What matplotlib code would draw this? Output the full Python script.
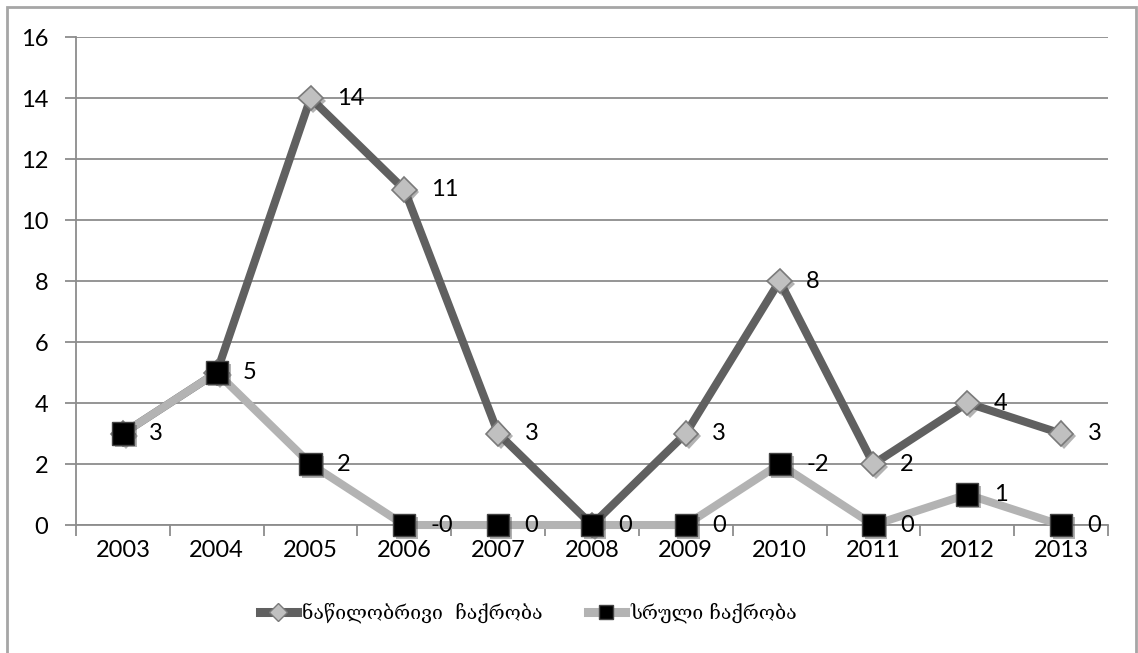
import matplotlib.pyplot as plt
import matplotlib.patheffects as pe
from matplotlib.patches import Rectangle

# Data
years = ['2003', '2004', '2005', '2006', '2007', '2008', '2009', '2010', '2011', '2012', '2013']
partial = [3, 5, 14, 11, 3, 0, 3, 8, 2, 4, 3]
full = [3, 5, 2, 0, 0, 0, 0, 2, 0, 1, 0]
partial_labels = ['3', '5', '14', '11', '3', '0', '3', '8', '2', '4', '3']
full_labels = ['3', '5', '2', '-0', '0', '0', '0', '-2', '0', '1', '0']
names = ['ნაწილობრივი  ჩაქრობა', 'სრული ჩაქრობა']

plt.rcParams['font.family'] = ['Lato', 'DejaVu Sans']

grid_c = '#8c8c8c'
dark = '#606060'
light = '#b3b3b3'
fs = 17

fig = plt.figure(figsize=(11.38, 6.53), dpi=100)
ax = fig.add_axes([0.0668, 0.196, 0.9068, 0.7473])

# outer frame of the chart
fig.patches.append(Rectangle((7 / 1138, -0.05), 1129 / 1138, 1.05 - 7 / 653,
                             transform=fig.transFigure, fill=False,
                             edgecolor='#a6a6a6', linewidth=2))

x = list(range(len(years)))
shadow = [pe.SimplePatchShadow(offset=(2, -2), shadow_rgbFace='#555555', alpha=0.45), pe.Normal()]

ax.plot(x, partial, color=dark, linewidth=5.8, zorder=3, solid_capstyle='round', clip_on=False)
ax.plot(x, partial, linestyle='none', marker='D', markersize=12.5,
        markerfacecolor='#c0c0c0', markeredgecolor='#7a7a7a', markeredgewidth=1.2,
        zorder=4, path_effects=shadow, clip_on=False)
ax.plot(x, full, color=light, linewidth=5.8, zorder=5, solid_capstyle='round', clip_on=False)
ax.plot(x, full, linestyle='none', marker='s', markersize=16,
        markerfacecolor='black', markeredgecolor='#444444', markeredgewidth=1,
        zorder=6, path_effects=shadow, clip_on=False)

# value labels; where both series share a point only one label is drawn
for xi, v, t, v2, t2 in zip(x, partial, partial_labels, full, full_labels):
    if v == v2 and t == t2:
        continue
    ax.annotate(t, (xi, v), xytext=(19, 0), textcoords='offset points',
                ha='left', va='center', fontsize=fs, zorder=7)
for xi, v, t in zip(x, full, full_labels):
    ax.annotate(t, (xi, v), xytext=(19, 0), textcoords='offset points',
                ha='left', va='center', fontsize=fs, zorder=7)

ax.set_xlim(-0.5, len(years) - 0.5)
ax.set_ylim(0, 16)
ax.set_yticks(range(0, 17, 2))
ax.set_xticks(x)
ax.set_xticklabels(years)
ax.set_xticks([i - 0.5 for i in range(len(years) + 1)], minor=True)
ax.tick_params(axis='x', which='major', length=0, pad=11, labelsize=fs)
ax.tick_params(axis='x', which='minor', length=8, width=1.3, color=grid_c, direction='out')
ax.tick_params(axis='y', length=8, width=1.3, color=grid_c, pad=12, labelsize=fs)

ax.grid(axis='y', color=grid_c, linewidth=1.3, zorder=0)
ax.set_axisbelow(True)
for s in ['top', 'right']:
    ax.spines[s].set_visible(False)
for s in ['left', 'bottom']:
    ax.spines[s].set_color(grid_c)
    ax.spines[s].set_linewidth(1.3)

h1, = ax.plot([], [], color=dark, linewidth=6.5, marker='D', markersize=9,
              markerfacecolor='#c0c0c0', markeredgecolor='#7a7a7a')
h2, = ax.plot([], [], color=light, linewidth=6.5, marker='s', markersize=10,
              markerfacecolor='black', markeredgecolor='#444444')
fig.legend([h1, h2], names, loc='center left', bbox_to_anchor=(250 / 1138, 1 - 613 / 653),
           ncol=2, frameon=False, prop={'family': ['DejaVu Serif', 'DejaVu Sans'], 'size': 14},
           handlelength=1.9, handletextpad=0.3, columnspacing=2.3, borderpad=0)

fig.savefig('out.png', dpi=100)
